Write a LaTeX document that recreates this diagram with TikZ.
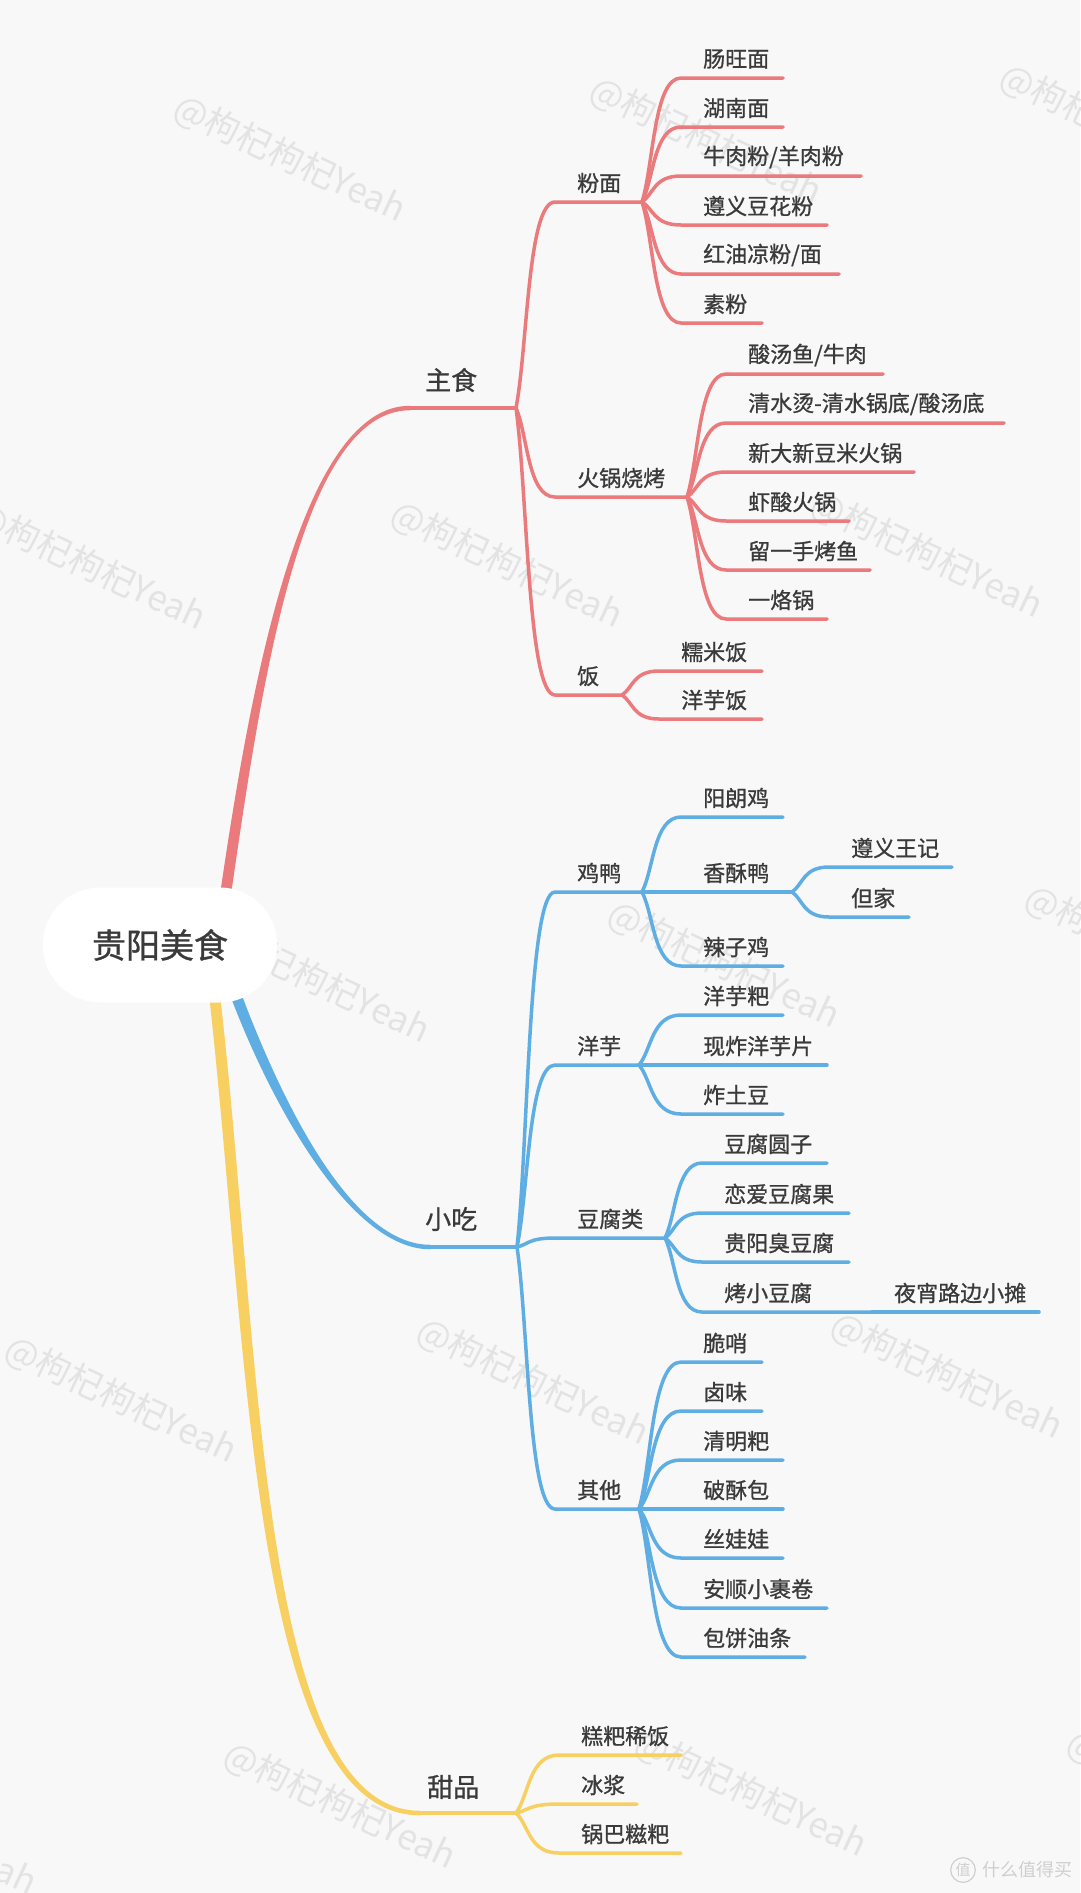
\documentclass[tikz,border=0pt]{standalone}
\usepackage{fontspec}
\setmainfont{Noto Sans CJK SC}[FakeBold=0.9]
\newfontfamily\wmfont{Noto Sans CJK SC}
\usetikzlibrary{calc}
\definecolor{bg}{HTML}{F8F8F8}
\definecolor{cred}{HTML}{EB7A7C}
\definecolor{cblue}{HTML}{5FAEE3}
\definecolor{cyel}{HTML}{F7D061}
\definecolor{ctext}{HTML}{3A3A3A}
\definecolor{wm}{HTML}{E3E3E3}
\definecolor{logoc}{HTML}{CFCFCF}
\tikzset{
  conn/.style={line width=3.5pt, line cap=round},
  mainline/.style={line width=4.5pt, line cap=round},
  branch/.style={to path={let \p1=(\tikztostart), \p2=(\tikztotarget) in
      .. controls ({\x1+0.3*(\x2-\x1)},{\y1+0.3*(\y2-\y1)}) and ({\x1+0.3*(\x2-\x1)},\y2) .. (\tikztotarget)}},
  leaf/.style={anchor=west, inner sep=0pt, text=ctext, font=\fontsize{22}{26}\selectfont},
  lone/.style={anchor=west, inner sep=0pt, text=ctext, font=\fontsize{26}{30}\selectfont},
  rootn/.style={fill=white, rounded corners=57pt, minimum width=234pt, minimum height=115pt, inner sep=0pt, text=ctext, font=\fontsize{34}{38}\selectfont},
  wmk/.style={rotate=-25, text=wm, inner sep=0pt, font=\wmfont\fontsize{35}{40}\selectfont},
}
\newcommand\mmtopic[6]{%
  \coordinate (#1s) at (#3,#5);
  \coordinate (#1e) at (#4,#5);
  \draw[conn] (#2) to[branch] (#1s) -- (#1e);
  \node[leaf] (#1) at ({#3+22},{#5-19}) {#6};
}
\begin{document}
\begin{tikzpicture}[x=1pt,y=-1pt]
\fill[bg] (0,0) rectangle (1080,1893);
\useasboundingbox (0,0) rectangle (1080,1893);

% watermarks
\foreach \wx/\wy [count=\k] in {290/159, 706/141, 1116/128, 90/567, 507/565, 927/555, 1141/949, 724/965, 314/980, -115/982, 533/1382, 947/1376, 121/1400, 340/1806, 751/1794, 1183/1794, -79/1832}
  \node[wmk] (wm\k) at (\wx,\wy) {@枸杞枸杞Yeah};

% logo
\node[circle, draw=logoc, line width=1.2pt, inner sep=1.5pt, text=logoc, font=\wmfont\fontsize{15}{15}\selectfont] (logo) at (963,1870) {值};
\node[anchor=west, inner sep=0pt, text=logoc, font=\wmfont\fontsize{18}{20}\selectfont] (logot) at (982,1870) {什么值得买};

% ---------- red: 主食 ----------
\fill[cred] (218.5,905) .. controls (249.5,690) and (300,405.75) .. (410,405.75)
  -- (410,410.25) .. controls (300,410.25) and (260.5,690) .. (229.5,905) -- cycle;
\coordinate (zsA) at (410,408);
\coordinate (zsJ) at (516,408);
\draw[cred, mainline] (zsA) -- (zsJ);
\node[lone] (zs) at (425,380) {主食};
\begin{scope}[color=cred]
\mmtopic{fm}{zsJ}{555}{642}{202}{粉面}
\mmtopic{a1}{fme}{681}{783}{78}{肠旺面}
\mmtopic{a2}{fme}{681}{783}{127}{湖南面}
\mmtopic{a3}{fme}{681}{861}{176}{牛肉粉/羊肉粉}
\mmtopic{a4}{fme}{681}{827}{225}{遵义豆花粉}
\mmtopic{a5}{fme}{681}{839}{274}{红油凉粉/面}
\mmtopic{a6}{fme}{681}{762}{323}{素粉}
\mmtopic{hg}{zsJ}{555}{687}{497}{火锅烧烤}
\mmtopic{b1}{hge}{726}{883}{374}{酸汤鱼/牛肉}
\mmtopic{b2}{hge}{726}{1004}{423}{清水烫-清水锅底/酸汤底}
\mmtopic{b3}{hge}{726}{914}{472}{新大新豆米火锅}
\mmtopic{b4}{hge}{726}{849}{521}{虾酸火锅}
\mmtopic{b5}{hge}{726}{870}{570}{留一手烤鱼}
\mmtopic{b6}{hge}{726}{827}{619}{一烙锅}
\mmtopic{fan}{zsJ}{555}{622}{695}{饭}
\mmtopic{c1}{fane}{659}{762}{671}{糯米饭}
\mmtopic{c2}{fane}{659}{762}{719}{洋芋饭}
\end{scope}

% ---------- blue: 小吃 ----------
\fill[cblue] (239.2,988.2) .. controls (280.2,1098.2) and (350,1244.75) .. (430,1244.75)
  -- (430,1249.25) .. controls (350,1249.25) and (269.8,1101.8) .. (228.8,991.8) -- cycle;
\coordinate (xcA) at (430,1247);
\coordinate (xcJ) at (517,1247);
\draw[cblue, mainline] (xcA) -- (xcJ);
\node[lone] (xc) at (425,1219) {小吃};
\begin{scope}[color=cblue]
\mmtopic{jy}{xcJ}{555}{642}{892}{鸡鸭}
\mmtopic{d1}{jye}{681}{783}{817}{阳朗鸡}
\mmtopic{xsy}{jye}{681}{792}{892}{香酥鸭}
\mmtopic{e1}{xsye}{829}{952}{867}{遵义王记}
\mmtopic{e2}{xsye}{829}{909}{917}{但家}
\mmtopic{d3}{jye}{681}{783}{966}{辣子鸡}
\mmtopic{yy}{xcJ}{555}{639}{1065}{洋芋}
\mmtopic{f1}{yye}{681}{783}{1015}{洋芋粑}
\mmtopic{f2}{yye}{681}{827}{1065}{现炸洋芋片}
\mmtopic{f3}{yye}{681}{783}{1114}{炸土豆}
\mmtopic{df}{xcJ}{555}{665}{1238}{豆腐类}
\mmtopic{g1}{dfe}{702}{827}{1163}{豆腐圆子}
\mmtopic{g2}{dfe}{702}{849}{1213}{恋爱豆腐果}
\mmtopic{g3}{dfe}{702}{849}{1262}{贵阳臭豆腐}
\mmtopic{g4}{dfe}{702}{872}{1312}{烤小豆腐}
\mmtopic{g5}{g4e}{872}{1039}{1312}{夜宵路边小摊}
\mmtopic{qt}{xcJ}{555}{639}{1509}{其他}
\mmtopic{h1}{qte}{681}{762}{1362}{脆哨}
\mmtopic{h2}{qte}{681}{762}{1411}{卤味}
\mmtopic{h3}{qte}{681}{783}{1460}{清明粑}
\mmtopic{h4}{qte}{681}{783}{1509}{破酥包}
\mmtopic{h5}{qte}{681}{783}{1558}{丝娃娃}
\mmtopic{h6}{qte}{681}{827}{1608}{安顺小裹卷}
\mmtopic{h7}{qte}{681}{805}{1657}{包饼油条}
\end{scope}

% ---------- yellow: 甜品 ----------
\fill[cyel] (219.5,990) .. controls (261,1350) and (259,1810.75) .. (420,1810.75)
  -- (420,1815.25) .. controls (251,1815.25) and (249,1350) .. (208.5,990) -- cycle;
\coordinate (tpA) at (420,1813);
\coordinate (tpJ) at (516,1813);
\draw[cyel, mainline] (tpA) -- (tpJ);
\node[lone] (tp) at (427,1787) {甜品};
\begin{scope}[color=cyel]
\mmtopic{i1}{tpJ}{559}{681}{1755}{糕粑稀饭}
\mmtopic{i2}{tpJ}{559}{637}{1804}{冰浆}
\mmtopic{i3}{tpJ}{559}{681}{1853}{锅巴糍粑}
\end{scope}

% root
\node[rootn] (root) at (160,945) {贵阳美食};
\end{tikzpicture}
\end{document}
